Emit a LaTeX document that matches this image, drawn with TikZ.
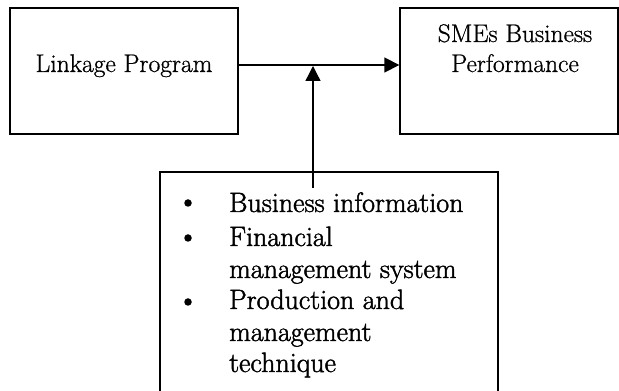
\documentclass[tikz,border=0pt]{standalone}
\usepackage{fontspec}
\newfontfamily\topfont{Latin Modern Roman}[FakeBold=0.8]
\newfontfamily\botfont{Latin Modern Roman}[FakeBold=1.6]
\usetikzlibrary{arrows.meta}
\begin{document}
\begin{tikzpicture}[x=1pt,y=1pt,
  box/.style={draw, line width=1.3pt, inner sep=0pt},
  toptxt/.style={font=\topfont\fontsize{25.5}{30}\selectfont, inner sep=0pt, anchor=base},
  bottxt/.style={font=\botfont\fontsize{28}{32}\selectfont, inner sep=0pt, anchor=base west},
  bul/.style={circle, fill, inner sep=0pt, minimum size=7.5pt},
  arr/.style={line width=1.3pt, -{Triangle[length=15pt,width=15pt]}}]
\useasboundingbox (0,0) rectangle (619,391);
\node[box, minimum width=228pt, minimum height=126pt] (lp) at (124,320) {};
\node[box, minimum width=218pt, minimum height=126pt] (sme) at (509,320) {};
\node[box, minimum width=338pt, minimum height=230pt] (fac) at (329,104) {};
\node[toptxt] (lpt) at (124,319) {Linkage Program};
\node[toptxt] (smet1) at (515,349) {SMEs Business};
\node[toptxt] (smet2) at (515,319) {Performance};
\coordinate (hs) at (lp.east |- 0,326);
\coordinate (he) at (sme.west |- 0,326);
\coordinate (vs) at (313,203);
\coordinate (ve) at (313,325);
\draw[arr] (hs) -- (he);
\draw[arr] (vs) -- (ve);
\node[bul] (b1) at (188,188) {};
\node[bul] (b2) at (188,153) {};
\node[bul] (b3) at (188,89) {};
\node[bottxt] (t1) at (229,179) {Business information};
\node[bottxt] (t2) at (229,145) {Financial};
\node[bottxt] (t3) at (229,113) {management system};
\node[bottxt] (t4) at (229,82) {Production and};
\node[bottxt] (t5) at (229,50) {management};
\node[bottxt] (t6) at (229,19) {technique};
\end{tikzpicture}
\end{document}
